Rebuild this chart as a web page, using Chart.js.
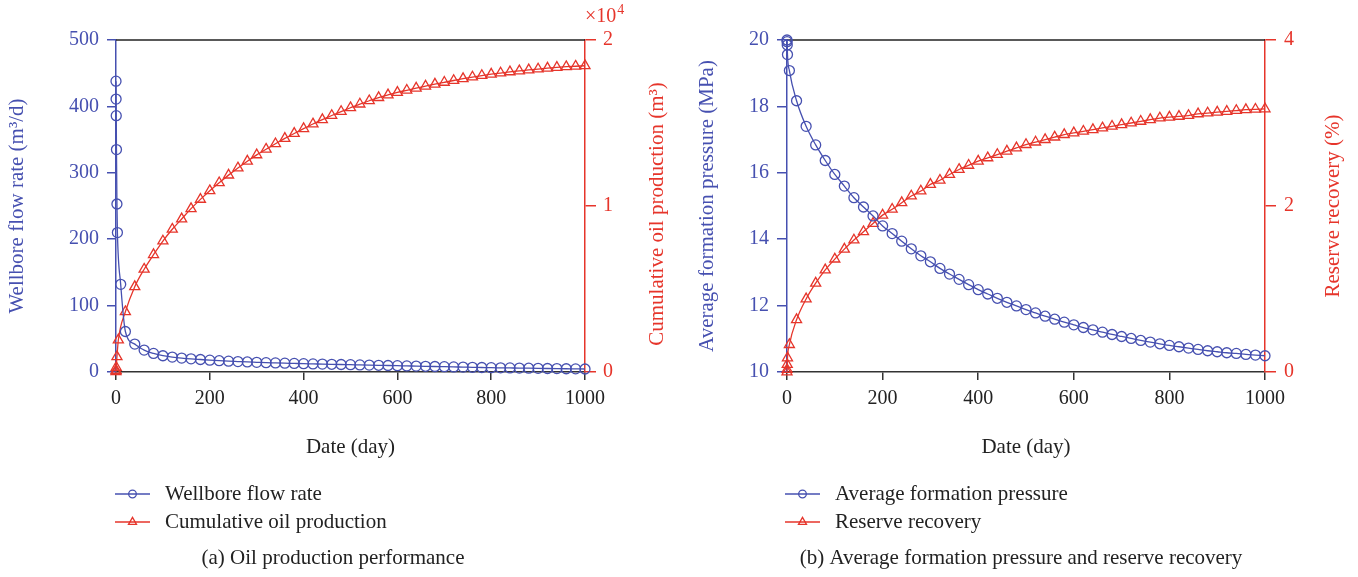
<!DOCTYPE html>
<html>
<head>
<meta charset="utf-8">
<title>Production performance</title>
<script src="https://cdn.jsdelivr.net/npm/chart.js@4.4.1/dist/chart.umd.min.js"></script>
<style>
  body { margin: 0; background: #fff; }
  .panel { position: absolute; top: 0; width: 679px; height: 577px; }
</style>
</head>
<body>
<div class="panel" style="left:0"><canvas id="oilChart" width="679" height="577"></canvas></div>
<div class="panel" style="left:679px"><canvas id="pressureChart" width="679" height="577"></canvas></div>

<script>
"use strict";

// Regular output steps (day), shared by all four series after the first days
const stepDays = [20, 40, 60, 80, 100, 120, 140, 160, 180, 200,
  220, 240, 260, 280, 300, 320, 340, 360, 380, 400,
  420, 440, 460, 480, 500, 520, 540, 560, 580, 600,
  620, 640, 660, 680, 700, 720, 740, 760, 780, 800,
  820, 840, 860, 880, 900, 920, 940, 960, 980, 1000];

// (a) wellbore flow rate, m3/d
const flowEarlyDays = [0, 0.2, 0.5, 1, 2, 3, 10];
const flowEarly = [438, 411, 386, 335, 253, 210, 132];
const flowRate = [61, 42, 33, 28, 24.5, 22.5, 21, 19.8, 18.8, 17.8,
  17, 16.3, 15.7, 15.1, 14.6, 14.1, 13.7, 13.3, 12.9, 12.5,
  12.2, 11.9, 11.6, 11.3, 11, 10.7, 10.4, 10.1, 9.8, 9.5,
  9.2, 8.9, 8.6, 8.3, 8, 7.7, 7.4, 7.1, 6.8, 6.5,
  6.3, 6.1, 5.9, 5.7, 5.5, 5.3, 5.1, 4.9, 4.7, 4.5];

// (a) cumulative oil production, m3
const oilEarlyDays = [0, 0.2, 0.5, 2, 5];
const oilEarly = [20, 100, 280, 920, 1930];
const oilProduction = [3630, 5140, 6190, 7070, 7890, 8600, 9220, 9840, 10400, 10920,
  11400, 11860, 12290, 12700, 13080, 13420, 13750, 14070, 14370, 14660,
  14940, 15200, 15450, 15690, 15920, 16140, 16340, 16530, 16690, 16840,
  16970, 17100, 17220, 17340, 17450, 17560, 17670, 17770, 17860, 17940,
  18010, 18080, 18140, 18200, 18250, 18300, 18350, 18390, 18420, 18450];

// (b) average formation pressure, MPa
const pressureEarlyDays = [0, 0.2, 0.5, 1, 5];
const pressureEarly = [20.0, 19.95, 19.85, 19.56, 19.08];
const pressure = [18.17, 17.4, 16.84, 16.37, 15.95, 15.6, 15.25, 14.97, 14.7, 14.4,
  14.17, 13.94, 13.71, 13.5, 13.32, 13.12, 12.95, 12.79, 12.63, 12.48,
  12.35, 12.22, 12.1, 11.99, 11.88, 11.78, 11.68, 11.59, 11.5, 11.42,
  11.34, 11.27, 11.2, 11.13, 11.07, 11.01, 10.95, 10.9, 10.85, 10.8,
  10.76, 10.72, 10.68, 10.64, 10.61, 10.58, 10.56, 10.53, 10.51, 10.49];

// (b) reserve recovery, %
const recoveryEarlyDays = [0, 0.2, 0.5, 1, 5];
const recoveryEarly = [0, 0.03, 0.09, 0.17, 0.33];
const recovery = [0.63, 0.88, 1.07, 1.23, 1.36, 1.48, 1.59, 1.69, 1.79, 1.89,
  1.96, 2.04, 2.12, 2.18, 2.26, 2.31, 2.38, 2.44, 2.49, 2.54,
  2.58, 2.62, 2.66, 2.7, 2.74, 2.77, 2.8, 2.83, 2.86, 2.88,
  2.9, 2.92, 2.94, 2.96, 2.98, 3, 3.02, 3.04, 3.06, 3.07,
  3.08, 3.09, 3.11, 3.12, 3.13, 3.14, 3.15, 3.16, 3.165, 3.17];

const BLUE = "#4650b0";
const RED = "#e6352b";
const INK = "#222";
const SERIF = "'Liberation Serif', 'Times New Roman', serif";

Chart.defaults.font.family = SERIF;
Chart.defaults.font.size = 20;

// join early days and regular steps into {x, y} points
function points(earlyDays, earlyValues, values) {
  const days = earlyDays.concat(stepDays);
  const ys = earlyValues.concat(values);
  return days.map((d, i) => ({ x: d, y: ys[i] }));
}

function series(label, data, axis, color, style, radius) {
  return {
    label: label,
    data: data,
    yAxisID: axis,
    borderColor: color,
    borderWidth: 1.3,
    pointStyle: style,
    pointRadius: radius,
    pointBorderWidth: 1.3,
    pointBorderColor: color,
    pointBackgroundColor: "rgba(0,0,0,0)",
    cubicInterpolationMode: "monotone",
    clip: false,
  };
}

/* top frame line, right axis title, legend rows and caption */
const figureExtras = {
  id: "figureExtras",
  beforeDatasetsDraw(chart) {
    const { ctx, chartArea: a } = chart;
    ctx.save();
    ctx.strokeStyle = INK;
    ctx.lineWidth = 1.5;
    ctx.beginPath();
    ctx.moveTo(a.left, a.top);
    ctx.lineTo(a.right, a.top);
    ctx.stroke();
    ctx.restore();
  },
  afterDraw(chart, args, opts) {
    const { ctx, chartArea: a } = chart;
    ctx.save();

    // right title reads bottom to top
    ctx.save();
    ctx.translate(opts.rightTitleX, (a.top + a.bottom) / 2 + opts.rightTitleShift);
    ctx.rotate(-Math.PI / 2);
    ctx.fillStyle = RED;
    ctx.font = "21px " + SERIF;
    ctx.textAlign = "center";
    ctx.textBaseline = "middle";
    ctx.fillText(opts.rightTitle, 0, 0);
    ctx.restore();

    // scale factor above the right axis
    if (opts.exponent) {
      ctx.fillStyle = RED;
      ctx.textAlign = "left";
      ctx.textBaseline = "middle";
      ctx.font = "20px " + SERIF;
      ctx.fillText("×10", a.right, 17);
      const w = ctx.measureText("×10").width;
      ctx.font = "14px " + SERIF;
      ctx.fillText(opts.exponent, a.right + w + 1, 10);
    }

    // legend: short line with the marker in its middle
    chart.data.datasets.forEach((ds, i) => {
      const y = opts.legendY[i];
      const x0 = opts.legendX;
      ctx.strokeStyle = ds.borderColor;
      ctx.lineWidth = 1.3;
      ctx.beginPath();
      ctx.moveTo(x0, y);
      ctx.lineTo(x0 + 35, y);
      ctx.stroke();
      ctx.fillStyle = "rgba(0,0,0,0)";
      Chart.helpers.drawPoint(ctx, {
        pointStyle: ds.pointStyle,
        radius: ds.pointStyle === "triangle" ? 4.6 : 3.8,
        rotation: 0,
        borderWidth: 1.3,
      }, x0 + 17.5, y);
      ctx.fillStyle = INK;
      ctx.font = "21px " + SERIF;
      ctx.textAlign = "left";
      ctx.textBaseline = "middle";
      ctx.fillText(ds.label, x0 + 50, y);
    });

    ctx.fillStyle = INK;
    ctx.font = "21px " + SERIF;
    ctx.textAlign = "center";
    ctx.textBaseline = "middle";
    ctx.fillText(opts.caption, opts.captionX, 558);
    ctx.restore();
  },
};

function xAxis() {
  return {
    type: "linear",
    min: 0,
    max: 1000,
    ticks: { stepSize: 200, color: INK, padding: 7, callback: (v) => String(v) },
    grid: { drawOnChartArea: false, tickLength: 8, color: "#333", lineWidth: 1.5 },
    border: { color: "#333", width: 1.5 },
    title: { display: true, text: "Date (day)", color: INK, font: { size: 21 }, padding: { top: 0, bottom: 7 } },
    afterFit: (s) => { s.height = 95; },
  };
}

function yAxis(side, color, min, max, step, width, tickLen) {
  return {
    position: side,
    min: min,
    max: max,
    ticks: { stepSize: step, color: color, padding: 8 },
    grid: { drawOnChartArea: false, tickLength: tickLen, color: color, lineWidth: 1.5 },
    border: { color: color, width: 1.5 },
    afterFit: (s) => { s.width = width; },
  };
}

// (a) Oil production performance
const flowAxis = yAxis("left", BLUE, 0, 500, 100, 116, 9);
flowAxis.title = { display: true, text: "Wellbore flow rate (m³/d)", color: BLUE, font: { size: 21 }, padding: { top: 5, bottom: 0 } };
const oilAxis = yAxis("right", RED, 0, 20000, 10000, 94, 11);
oilAxis.ticks.callback = (v) => v / 10000;
oilAxis.ticks.padding = 7;

new Chart(document.getElementById("oilChart"), {
  type: "line",
  data: {
    datasets: [
      series("Wellbore flow rate", points(flowEarlyDays, flowEarly, flowRate), "y", BLUE, "circle", 5),
      series("Cumulative oil production", points(oilEarlyDays, oilEarly, oilProduction), "y2", RED, "triangle", 5.8),
    ],
  },
  options: {
    responsive: false,
    animation: false,
    layout: { padding: { top: 40, bottom: 110, left: 0, right: 0 } },
    scales: { x: xAxis(), y: flowAxis, y2: oilAxis },
    plugins: {
      legend: { display: false },
      tooltip: { enabled: false },
      figureExtras: {
        rightTitle: "Cumulative oil production (m³)",
        rightTitleX: 657,
        rightTitleShift: 8,
        exponent: "4",
        legendX: 115,
        legendY: [494, 522],
        caption: "(a) Oil production performance",
        captionX: 333,
      },
    },
  },
  plugins: [figureExtras],
});

// (b) Average formation pressure and reserve recovery
const pressureAxis = yAxis("left", BLUE, 10, 20, 2, 108, 10);
pressureAxis.title = { display: true, text: "Average formation pressure (MPa)", color: BLUE, font: { size: 21 }, padding: { top: 16, bottom: 0 } };
const recoveryAxis = yAxis("right", RED, 0, 4, 2, 93, 11);

new Chart(document.getElementById("pressureChart"), {
  type: "line",
  data: {
    datasets: [
      series("Average formation pressure", points(pressureEarlyDays, pressureEarly, pressure), "y", BLUE, "circle", 5),
      series("Reserve recovery", points(recoveryEarlyDays, recoveryEarly, recovery), "y2", RED, "triangle", 5.8),
    ],
  },
  options: {
    responsive: false,
    animation: false,
    layout: { padding: { top: 40, bottom: 110, left: 0, right: 0 } },
    scales: { x: xAxis(), y: pressureAxis, y2: recoveryAxis },
    plugins: {
      legend: { display: false },
      tooltip: { enabled: false },
      figureExtras: {
        rightTitle: "Reserve recovery (%)",
        rightTitleX: 654,
        rightTitleShift: 0,
        exponent: null,
        legendX: 106,
        legendY: [494, 522],
        caption: "(b) Average formation pressure and reserve recovery",
        captionX: 342,
      },
    },
  },
  plugins: [figureExtras],
});
</script>
</body>
</html>
